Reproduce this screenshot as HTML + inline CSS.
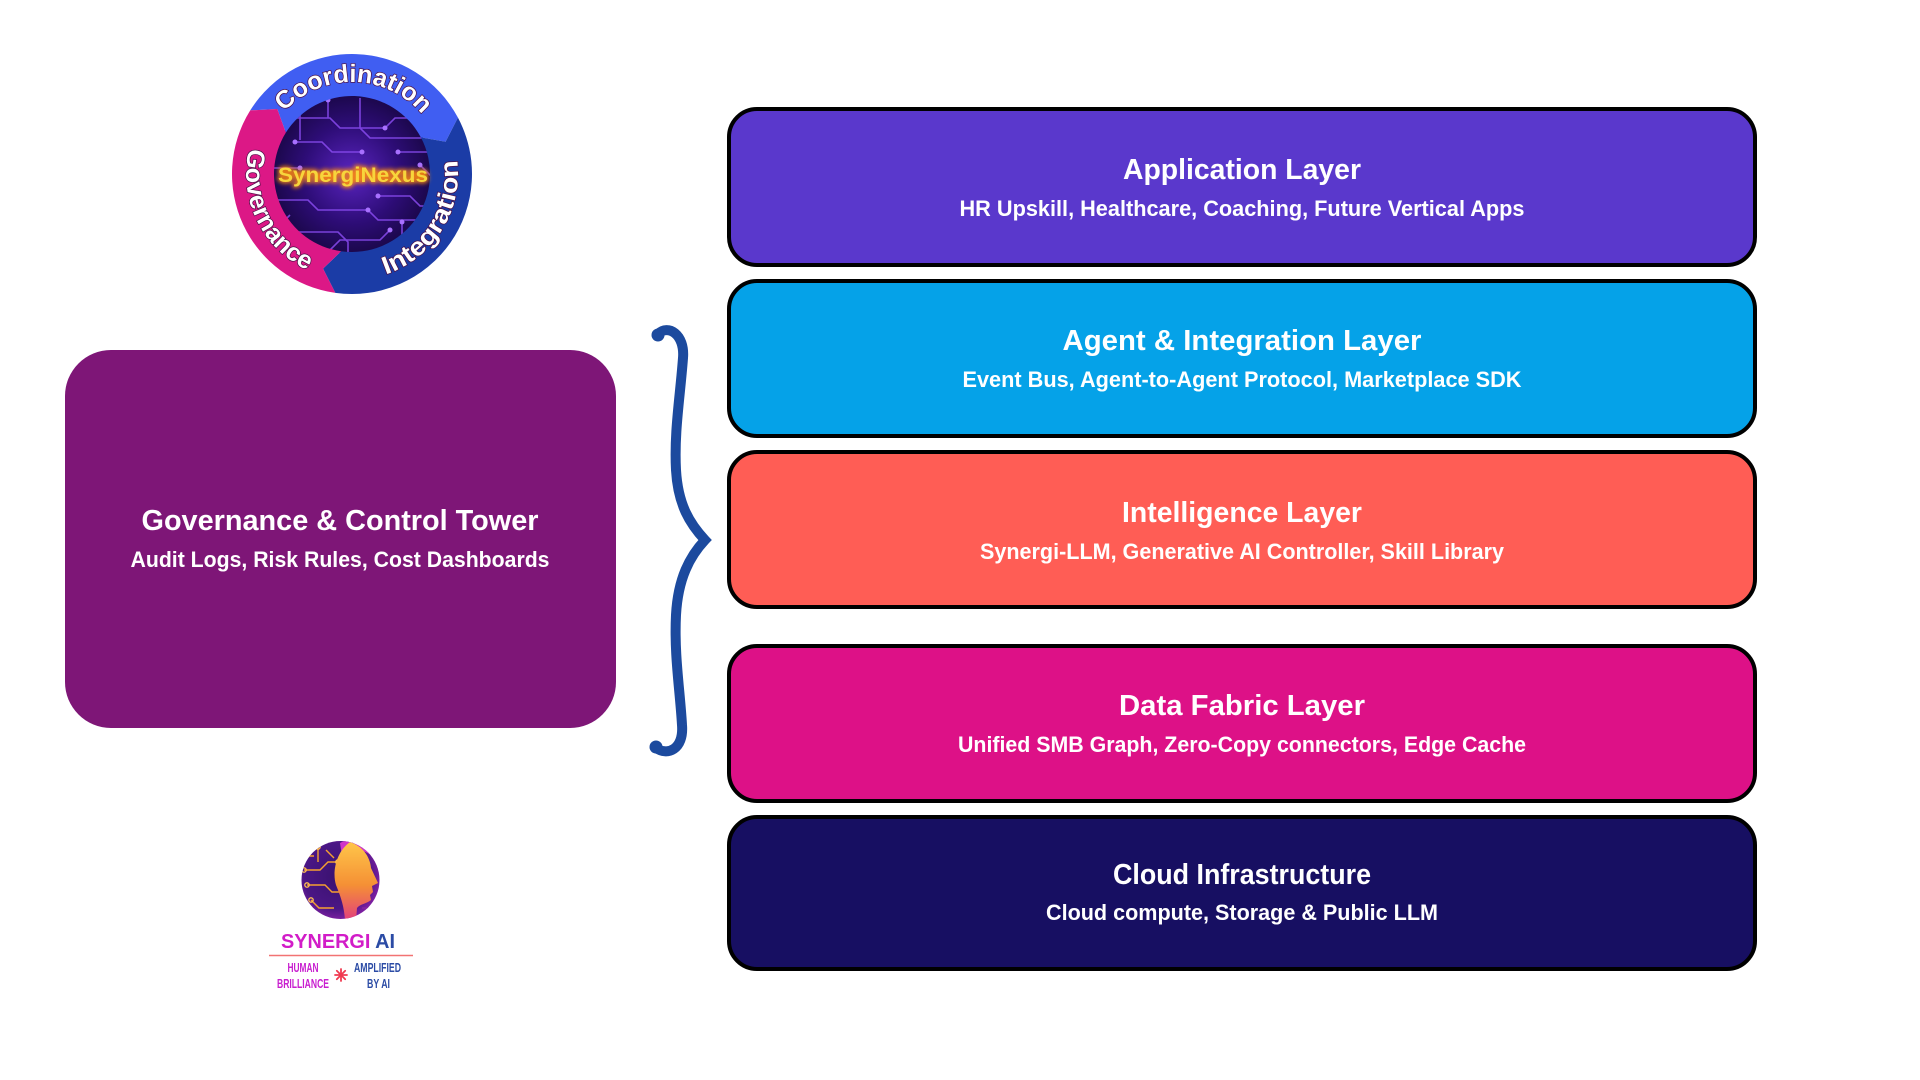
<!DOCTYPE html>
<html>
<head>
<meta charset="utf-8">
<style>
  html,body{margin:0;padding:0;background:#ffffff;}
  body{width:1920px;height:1080px;overflow:hidden;}
  svg{display:block;}
  text{font-family:"Liberation Sans", Arial, sans-serif;font-weight:bold;}
</style>
</head>
<body>
<svg width="1920" height="1080" viewBox="0 0 1920 1080" xmlns="http://www.w3.org/2000/svg">
  <defs>
    <radialGradient id="innerG" cx="50%" cy="50%" r="55%">
      <stop offset="0%" stop-color="#5a24c0"/>
      <stop offset="55%" stop-color="#2e0d78"/>
      <stop offset="100%" stop-color="#16063f"/>
    </radialGradient>
    <clipPath id="innerClip"><circle cx="352" cy="174" r="79"/></clipPath>
    <filter id="glow" x="-20%" y="-50%" width="140%" height="200%">
      <feGaussianBlur stdDeviation="2.2"/>
    </filter>
    <radialGradient id="lg2" cx="45%" cy="45%" r="60%">
      <stop offset="0%" stop-color="#3a1270"/>
      <stop offset="70%" stop-color="#4a1685"/>
      <stop offset="100%" stop-color="#8a22a8"/>
    </radialGradient>
    <linearGradient id="faceG" x1="0" y1="0" x2="0" y2="1">
      <stop offset="0%" stop-color="#ffc64a"/>
      <stop offset="55%" stop-color="#f59035"/>
      <stop offset="100%" stop-color="#e2407c"/>
    </linearGradient>
    <clipPath id="logo2Clip"><circle cx="340.5" cy="880" r="39"/></clipPath>
    <path id="arcCoord" d="M260.01,172.39 A92 92 0 0 1 443.99,175.61"/>
    <path id="arcInteg" d="M299,265.8 A106 106 0 0 0 411.27,86.12"/>
    <path id="arcGov" d="M303.06,79.98 A106 106 0 0 0 394.26,271.21"/>
  </defs>

  <rect x="0" y="0" width="1920" height="1080" fill="#ffffff"/>

  <!-- ===== Top logo: SynergiNexus ===== -->
  <circle cx="352" cy="174" r="80" fill="url(#innerG)"/>
  <g clip-path="url(#innerClip)" fill="none" stroke="#8a4cf0" stroke-width="1.6" opacity="0.85">
    <path d="M285,118 H330 L340,128 H385 L395,118 H430"/>
    <path d="M295,142 H322 L332,152 H362"/>
    <path d="M272,200 H308 L318,210 H368 L378,220 H420"/>
    <path d="M360,98 V128 L370,138 H425"/>
    <path d="M398,152 H440"/>
    <path d="M285,232 H338 L348,242 V260"/>
    <path d="M378,196 H410 L420,206 H445"/>
    <path d="M328,100 V118"/>
    <path d="M402,222 V255"/>
    <path d="M300,168 H270"/>
    <path d="M310,100 L300,110 V140"/>
    <path d="M420,165 L432,177 H450"/>
    <path d="M330,250 L340,240 H380 L390,230"/>
    <path d="M290,215 L280,225"/>
  </g>
  <g clip-path="url(#innerClip)" fill="#a870ff">
    <circle cx="385" cy="128" r="2.5"/><circle cx="362" cy="152" r="2.5"/>
    <circle cx="295" cy="142" r="2.5"/><circle cx="368" cy="210" r="2.5"/>
    <circle cx="425" cy="138" r="2.5"/><circle cx="398" cy="152" r="2.5"/>
    <circle cx="285" cy="232" r="2.5"/><circle cx="378" cy="196" r="2.5"/>
    <circle cx="328" cy="100" r="2.5"/><circle cx="402" cy="222" r="2.5"/>
    <circle cx="300" cy="168" r="2.5"/><circle cx="420" cy="165" r="2.5"/>
    <circle cx="390" cy="230" r="2.5"/><circle cx="310" cy="100" r="2.5"/>
  </g>

  <!-- ring segments -->
  <path d="M250.24,110.41 A120 120 0 0 1 457.95,117.66 L445.6,141.77 L420.87,137.38 A78 78 0 0 0 285.86,132.67 L277.28,109.05 Z" fill="#405ef2"/>
  <path d="M457.95,117.66 A120 120 0 0 1 335.3,292.84 L323.05,268.67 L341.14,251.24 A78 78 0 0 0 420.87,137.38 L445.6,141.77 Z" fill="#1b3ca6"/>
  <path d="M335.3,292.84 A120 120 0 0 1 250.24,110.41 L277.28,109.05 L285.86,132.67 A78 78 0 0 0 341.14,251.24 L323.05,268.67 Z" fill="#dc1886"/>

  <!-- ring text -->
  <g font-size="25" fill="#ffffff" stroke="#4a0f45" stroke-width="1.4" paint-order="stroke" style="font-weight:normal">
    <text text-anchor="middle" textLength="156" lengthAdjust="spacingAndGlyphs"><textPath href="#arcCoord" startOffset="50%">Coordination</textPath></text>
    <text text-anchor="middle" textLength="146" lengthAdjust="spacingAndGlyphs"><textPath href="#arcInteg" startOffset="50%">Integration</textPath></text>
    <text text-anchor="middle" textLength="146" lengthAdjust="spacingAndGlyphs"><textPath href="#arcGov" startOffset="50%">Governance</textPath></text>
  </g>

  <!-- center text -->
  <text x="353" y="182" text-anchor="middle" font-size="21" textLength="150" lengthAdjust="spacingAndGlyphs" fill="#ff9a20" stroke="#ff8a10" stroke-width="3" filter="url(#glow)" opacity="0.9">SynergiNexus</text>
  <text x="353" y="182" text-anchor="middle" font-size="21" textLength="150" lengthAdjust="spacingAndGlyphs" fill="#f7d53c">SynergiNexus</text>

  <!-- ===== Governance box ===== -->
  <rect x="65" y="350" width="551" height="378" rx="46" ry="46" fill="#7e1677"/>
  <text x="340" y="530" text-anchor="middle" font-size="29" fill="#ffffff" textLength="397" lengthAdjust="spacingAndGlyphs">Governance &amp; Control Tower</text>
  <text x="340" y="567" text-anchor="middle" font-size="22" fill="#ffffff" textLength="419" lengthAdjust="spacingAndGlyphs">Audit Logs, Risk Rules, Cost Dashboards</text>

  <!-- ===== Brace ===== -->
  <path d="M658,334 C668,324 685,334 683,358 C680,398 674,432 676,470 C678,505 690,524 705,540 C690,556 678,578 676,615 C674,655 680,690 682,725 C684,750 667,756 656,748"
        fill="none" stroke="#1c4a9e" stroke-width="10" stroke-linecap="round" stroke-linejoin="miter" stroke-miterlimit="10"/>
  <circle cx="658" cy="335" r="6.5" fill="#1c4a9e"/>
  <circle cx="656" cy="747" r="6.5" fill="#1c4a9e"/>

  <!-- ===== Layer boxes ===== -->
  <g stroke="#000000" stroke-width="4">
    <rect x="729" y="109" width="1026" height="156" rx="28" ry="28" fill="#5a38cc"/>
    <rect x="729" y="281" width="1026" height="155" rx="28" ry="28" fill="#05a2e8"/>
    <rect x="729" y="452" width="1026" height="155" rx="28" ry="28" fill="#ff5d55"/>
    <rect x="729" y="646" width="1026" height="155" rx="28" ry="28" fill="#dd1187"/>
    <rect x="729" y="817" width="1026" height="152" rx="28" ry="28" fill="#170f62"/>
  </g>
  <g fill="#ffffff" text-anchor="middle">
    <text x="1242" y="179" font-size="29" textLength="238" lengthAdjust="spacingAndGlyphs">Application Layer</text>
    <text x="1242" y="216" font-size="22" textLength="565" lengthAdjust="spacingAndGlyphs">HR Upskill, Healthcare, Coaching, Future Vertical Apps</text>

    <text x="1242" y="350" font-size="29" textLength="359" lengthAdjust="spacingAndGlyphs">Agent &amp; Integration Layer</text>
    <text x="1242" y="387" font-size="22" textLength="559" lengthAdjust="spacingAndGlyphs">Event Bus, Agent-to-Agent Protocol, Marketplace SDK</text>

    <text x="1242" y="522" font-size="29" textLength="240" lengthAdjust="spacingAndGlyphs">Intelligence Layer</text>
    <text x="1242" y="559" font-size="22" textLength="524" lengthAdjust="spacingAndGlyphs">Synergi-LLM, Generative AI Controller, Skill Library</text>

    <text x="1242" y="715" font-size="29" textLength="246" lengthAdjust="spacingAndGlyphs">Data Fabric Layer</text>
    <text x="1242" y="752" font-size="22" textLength="568" lengthAdjust="spacingAndGlyphs">Unified SMB Graph, Zero-Copy connectors, Edge Cache</text>

    <text x="1242" y="884" font-size="29" textLength="258" lengthAdjust="spacingAndGlyphs">Cloud Infrastructure</text>
    <text x="1242" y="920" font-size="22" textLength="392" lengthAdjust="spacingAndGlyphs">Cloud compute, Storage &amp; Public LLM</text>
  </g>

  <!-- ===== Bottom logo: SYNERGI AI ===== -->
  <circle cx="340.5" cy="880" r="39" fill="url(#lg2)"/>
  <g clip-path="url(#logo2Clip)">
    <g fill="none" stroke="#f5a030" stroke-width="1.4">
      <path d="M304,870 H320 L328,862 H338"/>
      <path d="M307,885 H325 L332,892 H340"/>
      <path d="M318,848 V862"/>
      <path d="M311,900 L319,908 H334"/>
      <path d="M326,850 L334,858"/>
      <path d="M303,856 H314"/>
    </g>
    <g fill="none" stroke="#ffc050" stroke-width="1.3">
      <circle cx="304" cy="870" r="2.2"/><circle cx="318" cy="847" r="2.2"/>
      <circle cx="307" cy="885" r="2.2"/><circle cx="311" cy="900" r="2.2"/>
      <circle cx="303" cy="856" r="2"/><circle cx="338" cy="862" r="2.2"/>
    </g>
    <path d="M340,843 C352,836 366,842 372,856 C362,848 350,848 342,856 Z" fill="#d035c8"/>
    <path d="M350,842 C362,846 370,856 371,868 L378,883 L372,886 L373,892 L370,895 L371,900 C366,904 360,904 357,908 L356,920 L345,920 C344,905 340,895 336,885 C332,872 336,852 350,842 Z" fill="url(#faceG)"/>
    <g stroke="#8a2aa0" stroke-width="1.2">
      <path d="M362,908 H382"/><path d="M364,912 H382"/><path d="M366,916 H382"/>
    </g>
  </g>

  <text x="338" y="948" text-anchor="middle" font-size="20" textLength="114" lengthAdjust="spacingAndGlyphs"><tspan fill="#d21cc8">SYNERGI </tspan><tspan fill="#2b4ba5">AI</tspan></text>
  <line x1="269" y1="955.5" x2="413" y2="955.5" stroke="#f27373" stroke-width="1.5"/>
  <g font-size="12.5" text-anchor="middle">
    <text x="303" y="972" fill="#c81ecf" textLength="31" lengthAdjust="spacingAndGlyphs">HUMAN</text>
    <text x="303" y="988" fill="#c81ecf" textLength="52" lengthAdjust="spacingAndGlyphs">BRILLIANCE</text>
    <text x="377.5" y="972" fill="#2b4ba5" textLength="47" lengthAdjust="spacingAndGlyphs">AMPLIFIED</text>
    <text x="378.5" y="988" fill="#2b4ba5" textLength="23" lengthAdjust="spacingAndGlyphs">BY AI</text>
  </g>
  <g stroke="#f03a50" stroke-width="1.8" stroke-linecap="round">
    <line x1="341" y1="969" x2="341" y2="981"/>
    <line x1="335" y1="975" x2="347" y2="975"/>
    <line x1="336.8" y1="970.8" x2="345.2" y2="979.2"/>
    <line x1="345.2" y1="970.8" x2="336.8" y2="979.2"/>
  </g>
</svg>
</body>
</html>
